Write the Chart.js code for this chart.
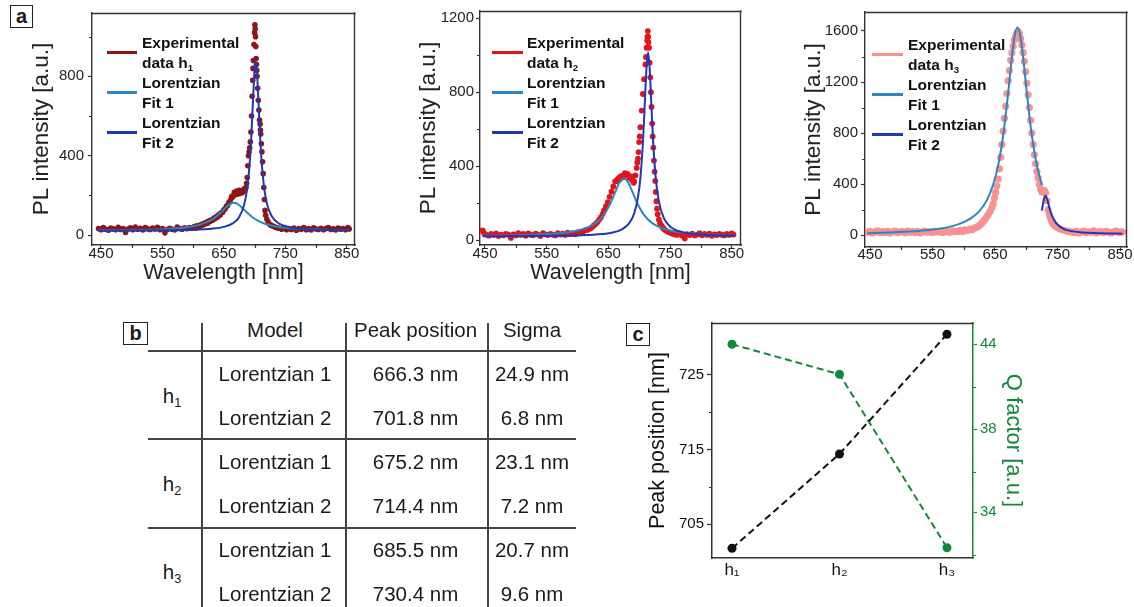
<!DOCTYPE html>
<html>
<head>
<meta charset="utf-8">
<script src="https://cdn.jsdelivr.net/npm/chart.js@4.4.1/dist/chart.umd.min.js"></script>
<style>
  html, body { margin: 0; padding: 0; background: #fff; }
  body { width: 1134px; height: 607px; position: relative; overflow: hidden;
         font-family: 'Liberation Sans', Arial, 'DejaVu Sans', sans-serif; color: #1a1a1a; }
  .pane { position: absolute; }
  .pane canvas { display: block; }
  .tag { position: absolute; box-sizing: border-box; border: 1.5px solid #222; background: #fff;
         font-weight: bold; font-size: 20px; line-height: 20px; text-align: center; }
  .legend { position: absolute; font-weight: bold; font-size: 15.5px; line-height: 20px; color: #111; }
  .legend .item { position: relative; height: 40px; }
  .legend .sw { position: absolute; left: 0; top: 18px; height: 3px; }
  .legend .lbl { position: absolute; top: 0; white-space: nowrap; }
  sub { font-size: 0.62em; line-height: 0; vertical-align: -0.3em; }
  .cell { position: absolute; width: 200px; text-align: center; font-size: 20.5px; line-height: 24px; white-space: nowrap; color: #1a1a1a; }
  .rule { position: absolute; background: #444; }
</style>
</head>
<body>

<div class="pane" style="left:0;top:0"><canvas id="specH1" width="370" height="290"></canvas></div>
<div class="pane" style="left:370px;top:0"><canvas id="specH2" width="380" height="290"></canvas></div>
<div class="pane" style="left:750px;top:0"><canvas id="specH3" width="384" height="290"></canvas></div>
<div class="pane" style="left:620px;top:310px"><canvas id="trend" width="514" height="297"></canvas></div>

<div class="tag" style="left:10px;top:5px;width:23px;height:23px">a</div>
<div class="tag" style="left:123px;top:322px;width:25px;height:23px">b</div>
<div class="tag" style="left:626px;top:323px;width:24px;height:23px">c</div>

<div id="legends"></div>
<div id="table"></div>

<script>
// ---------- colours ----------
const fit1Color = '#2b87c4';
const fit2Color = '#2138b5';
const expColors = ['#8c1616', '#e0141a', '#f99191'];
const qGreen = '#14883a';
const axisInk = '#333';

// ---------- axis ticks ----------
const wavelengthTicks = [450, 550, 650, 750, 850];
const wavelengthMinor = [500, 600, 700, 800];
const intensityTicksH1 = [0, 400, 800];
const intensityTicksH2 = [0, 400, 800, 1200];
const intensityTicksH3 = [0, 400, 800, 1200, 1600];
const intensityMinorH1 = [200, 600, 1000];
const intensityMinorH2 = [200, 600, 1000];
const intensityMinorH3 = [200, 600, 1000, 1400];

// ---------- spectrum h1 ----------
const h1Wavelength = [
  446,450,454,458,462,466,470,474,478,482,
  486,490,494,498,502,506,510,514,518,522,
  526,530,534,538,542,546,550,554,558,562,
  566,570,574,578,582,586,590,594,598,600,
  602,604,606,608,610,612,614,616,618,620,
  622,624,626,628,630,632,634,636,638,640,
  642,644,646,648,650,652,654,656,658,660,
  662,664,666,668,670,672,674,676,678,680,
  682,684,686,688,689,690,691,692,693,694,
  695,696,697,698,699,700,700.5,701,701.5,702,
  702.5,703,704,705,706,707,708,709,710,711,
  712,713,714,715,716,717,718,720,722,724,
  726,728,731,734,737,740,744,748,752,756,
  760,764,768,772,776,780,784,788,792,796,
  800,804,808,812,816,820,824,828,832,836,
  840,844,848,852,854,
  663,667,671,675,679,683,687,697.5,703.5,709.5
];
const h1Intensity = [
  34,28,38,30,25,36,32,27,40,29,
  34,14,31,37,28,41,30,35,26,38,
  32,29,36,31,40,27,33,12,29,35,
  30,26,41,34,30,37,33,39,36,38,
  44,36,47,42,50,46,55,51,60,57,
  66,62,72,70,78,76,86,84,94,92,
  104,102,114,116,128,132,145,150,164,172,
  186,192,200,205,210,206,214,210,218,214,
  222,226,240,290,350,400,420,440,470,520,
  600,700,780,880,960,1020,1060,1040,1000,950,
  890,860,800,740,680,630,580,560,510,460,
  420,370,310,240,180,125,100,80,66,56,
  52,48,45,40,37,35,30,38,27,33,
  29,36,25,34,30,38,28,33,26,37,
  31,29,35,27,33,38,29,32,26,36,
  30,34,28,38,31,
  196,216,222,226,224,234,262,840,830,530
];
const h1Fit1Wavelength = [446,480,520,560,590,610,625,637,647,655,661,666.3,672,679,687,697,710,725,745,770,800,830,854];
const h1Fit1Intensity  = [24.5,25.4,27.4,31.9,40.1,52.1,69.2,92.5,120.3,144.7,158.5,163,157.9,140.7,116.1,89.2,65.7,50.1,39.2,32.4,28.5,26.4,25.4];
const h1Fit2Wavelength = [446,500,560,600,630,650,665,675,683,688,692,695,697.5,699.5,701.8,704,706,708.5,711.5,715,720,728,740,760,790,820,854];
const h1Fit2Intensity  = [22.8,23.3,24.7,27.2,32.5,41.9,60.6,92,153,237,364,518,685,812,877,817,692,525,368,252,160,95,58,38,29,26,24.4];

// ---------- spectrum h2 ----------
const h2Wavelength = [
  446,448,452,456,460,464,468,472,476,480,
  484,488,492,496,500,504,508,512,516,520,
  524,528,532,536,540,544,548,552,556,560,
  564,568,572,576,580,584,588,592,596,600,
  604,608,612,616,620,623,626,629,632,635,
  638,641,643,646,649,652,655,658,661,664,
  667,670,673,676,679,682,685,688,690,692,
  694,696,698,699,700,702,704,706,708,710,
  711,712,713,713.5,714,714.5,715,716,717,718,
  719,720,721,722,723,724,725,726,727,728,
  729,730,732,734,736,738,740,743,746,750,
  754,758,762,766,770,774,778,782,786,790,
  794,798,802,806,810,814,818,822,826,830,
  834,838,842,846,850,853,
  665,669,674,677,681,684,687,691,697,701
];
const h2Intensity = [
  52,40,30,24,33,27,36,22,30,26,
  34,29,12,31,25,38,28,33,23,36,
  29,26,35,30,22,37,31,27,34,29,
  25,38,30,35,28,40,33,37,31,42,
  45,40,52,55,62,68,78,86,96,110,
  124,142,160,182,205,234,262,290,318,326,
  336,344,348,353,352,350,336,328,320,318,
  350,390,440,476,530,610,700,790,870,950,
  990,1040,1080,1100,1130,1100,1070,1040,960,880,
  800,720,630,560,500,430,370,320,260,210,
  170,140,110,90,78,68,60,52,46,40,
  34,30,28,36,24,9,32,27,35,25,
  30,37,26,33,28,35,23,31,27,34,
  29,25,33,28,36,30,
  318,330,340,362,358,340,344,310,420,560
];
const h2Fit1Wavelength = [446,480,520,560,590,610,625,637,647,655,662,668,675.2,681,688,696,705,715,728,745,770,800,830,854];
const h2Fit1Intensity  = [23.7,25.1,28,34.2,45,60.4,82.6,114.5,158.6,210.6,266.3,310.9,335,318.9,269.6,206.2,150.1,109.1,77.7,55.8,40.5,32.2,28,26];
const h2Fit2Wavelength = [446,500,560,600,630,655,672,684,692,698,702,706,709,711.5,714.4,717,720,723,727,732,740,752,770,795,825,854];
const h2Fit2Intensity  = [21,21.6,23,25.5,30,39.9,58.4,92.1,145.3,230.8,338,523.5,728.9,911,1015,930,714,512,331,208,119,68,43,31,26,23.7];

// ---------- spectrum h3 ----------
const h3Wavelength = [
  446,450,454,458,462,466,470,474,478,482,
  486,490,494,498,502,506,510,514,518,522,
  526,530,534,538,542,546,550,554,558,562,
  566,570,574,578,582,586,590,594,598,602,
  606,610,614,618,621,624,627,630,633,636,
  639,642,645,647,649,651,653,655,657,659,
  661,663,665,667,669,671,673,675,677,679,
  681,683,685,687,689,691,693,695,697,699,
  701,703,705,707,709,711,713,715,717,719,
  721,723,725,727,729,731,733,735,737,739,
  741,743,746,750,754,758,763,768,772,776,
  780,784,788,792,796,800,804,808,812,816,
  820,824,828,832,836,840,844,848,852,854
];
const h3Intensity = [
  24,30,18,26,34,20,28,22,31,17,
  27,33,21,25,29,19,32,24,28,22,
  30,18,26,33,23,28,20,31,25,29,
  22,32,27,24,34,30,28,38,30,42,
  36,48,44,58,64,72,86,100,118,138,
  160,185,215,244,290,335,385,440,520,610,
  710,815,915,1010,1110,1210,1290,1370,1430,1480,
  1530,1560,1585,1595,1580,1540,1490,1430,1360,1280,
  1190,1100,1000,900,800,710,630,560,500,450,
  400,360,340,345,350,330,270,200,160,130,
  105,90,72,60,50,42,35,30,26,22,
  30,18,25,32,20,27,23,34,19,26,
  29,21,31,24,18,28,33,22,27,25
];
const h3Fit1Wavelength = [446,480,520,560,590,610,625,637,647,656,664,671,677,681.5,686,690.5,695,701,708,714,720,725];
const h3Fit1Intensity  = [15.6,20.3,30.1,50.1,83.1,127.7,189,274.7,394.2,570.2,814.5,1111,1394,1562,1627,1562,1394,1111,814.5,622,482,394];
const h3Fit2Wavelength = [725,727,728.5,730.4,732.5,735,738,742,746,750,756,765,775,790,807,830,854];
const h3Fit2Intensity  = [193,250,290,312,294,254,196,143,108,84,60,40,30,22,18,14,12];

// ---------- fit table (panel b) ----------
const sampleSubs = ['1', '2', '3'];
const modelNames = ['Lorentzian 1', 'Lorentzian 2'];
const peakLorentz1 = [666.3, 675.2, 685.5];
const peakLorentz2 = [701.8, 714.4, 730.4];
const sigmaLorentz1 = [24.9, 23.1, 20.7];
const sigmaLorentz2 = [6.8, 7.2, 9.6];

// ---------- trend (panel c) ----------
const sampleLabels = ['h\u2081', 'h\u2082', 'h\u2083'];
const qFactor = [43.8, 42.1, 32.3];
const peakTicks = [705, 715, 725];
const peakMinor = [710, 720];
const qTickPos = [43.8, 39.0, 34.3];
const qTickLabels = ['44', '38', '34'];
const qMinor = [41.4, 36.6, 31.9];

// ---------- shared Chart.js setup ----------
Chart.defaults.font.family = "'Liberation Sans', Arial, 'DejaVu Sans', sans-serif";
Chart.defaults.color = '#222';
Chart.defaults.animation = false;

function pairs(xs, ys) { return xs.map((x, i) => ({ x: x, y: ys[i] })); }
const plainNumber = v => String(v);

// closes the plot frame on the given sides
function framePlugin(sides, color, width) {
  return {
    id: 'frame',
    afterDatasetsDraw(chart) {
      const { ctx, chartArea: a } = chart;
      ctx.save();
      ctx.strokeStyle = color; ctx.lineWidth = width; ctx.lineCap = 'square';
      ctx.beginPath();
      if (sides.includes('top'))   { ctx.moveTo(a.left, Math.round(a.top) + 0.5); ctx.lineTo(a.right, Math.round(a.top) + 0.5); }
      if (sides.includes('right')) { ctx.moveTo(Math.round(a.right) - 0.5, a.top); ctx.lineTo(Math.round(a.right) - 0.5, a.bottom); }
      ctx.stroke();
      ctx.restore();
    }
  };
}

// short unlabelled ticks between the major ones
function minorTickPlugin(specs) {
  return {
    id: 'minorTicks',
    afterDraw(chart) {
      const ctx = chart.ctx;
      specs.forEach(sp => {
        const s = chart.scales[sp.axis];
        ctx.save();
        ctx.strokeStyle = sp.color; ctx.lineWidth = 1.2;
        ctx.beginPath();
        sp.values.forEach(v => {
          const p = Math.round(s.getPixelForValue(v)) + 0.5;
          if (s.isHorizontal()) { ctx.moveTo(p, s.top); ctx.lineTo(p, s.top + sp.length); }
          else if (s.position === 'left') { ctx.moveTo(s.right, p); ctx.lineTo(s.right - sp.length, p); }
          else { ctx.moveTo(s.left, p); ctx.lineTo(s.left + sp.length, p); }
        });
        ctx.stroke();
        ctx.restore();
      });
    }
  };
}

function spectrumChart(id, c) {
  return new Chart(document.getElementById(id), {
    type: 'scatter',
    data: {
      datasets: [
        { label: 'Lorentzian Fit 2', data: pairs(c.fit2x, c.fit2y), showLine: true, borderColor: fit2Color,
          borderWidth: 2, pointRadius: 0, cubicInterpolationMode: 'monotone', fill: false, order: 0 },
        { label: 'Lorentzian Fit 1', data: pairs(c.fit1x, c.fit1y), showLine: true, borderColor: fit1Color,
          borderWidth: 2, pointRadius: 0, cubicInterpolationMode: 'monotone', fill: false, order: 1 },
        { label: c.expLabel, data: pairs(c.expx, c.expy), showLine: false, pointRadius: c.dot,
          pointBackgroundColor: c.expColor, backgroundColor: c.expColor, pointBorderWidth: 0, order: 2 }
      ]
    },
    options: {
      responsive: false, devicePixelRatio: 1, animation: false,
      layout: { padding: c.pad },
      plugins: { legend: { display: false }, tooltip: { enabled: false } },
      scales: {
        x: {
          type: 'linear', min: c.xMin, max: c.xMax,
          afterBuildTicks: s => { s.ticks = wavelengthTicks.map(v => ({ value: v })); },
          ticks: { callback: plainNumber, font: { size: 15 }, color: '#222', padding: c.xPad, maxRotation: 0, autoSkip: false, includeBounds: false },
          grid: { drawOnChartArea: false, drawTicks: true, tickLength: 4, color: axisInk, tickWidth: 1.2 },
          border: { display: true, color: axisInk, width: 1.4 },
          title: { display: c.xTitle, text: 'Wavelength [nm]', font: { size: 21.5 }, color: '#222', padding: { top: 0, bottom: 4 } },
          afterFit: s => { s.height = c.xHeight; }
        },
        y: {
          type: 'linear', min: c.yMin, max: c.yMax,
          afterBuildTicks: s => { s.ticks = c.yTicks.map(v => ({ value: v })); },
          ticks: { callback: plainNumber, font: { size: 15 }, color: '#222', padding: c.yPad, autoSkip: false, includeBounds: false },
          grid: { drawOnChartArea: false, drawTicks: true, tickLength: 4, color: axisInk, tickWidth: 1.2 },
          border: { display: true, color: axisInk, width: 1.4 },
          title: { display: true, text: 'PL intensity [a.u.]', font: { size: 22.5 }, color: '#222', padding: { top: c.yTitlePad, bottom: 0 } },
          afterFit: s => { s.width = c.yWidth; }
        }
      }
    },
    plugins: [
      framePlugin(['top', 'right'], axisInk, 1.4),
      minorTickPlugin([
        { axis: 'x', values: wavelengthMinor, length: 3, color: axisInk },
        { axis: 'y', values: c.yMinor, length: 3, color: axisInk }
      ])
    ]
  });
}

spectrumChart('specH1', {
  expx: h1Wavelength, expy: h1Intensity, expColor: expColors[0], expLabel: 'Experimental data h1', dot: 2.8,
  fit1x: h1Fit1Wavelength, fit1y: h1Fit1Intensity, fit2x: h1Fit2Wavelength, fit2y: h1Fit2Intensity,
  xMin: 435.4, xMax: 863.4, yMin: -49.3, yMax: 1119,
  yTicks: intensityTicksH1, yMinor: intensityMinorH1,
  pad: { left: 0, top: 8, right: 15, bottom: 0 }, yWidth: 92, xHeight: 45,
  yPad: 4, xPad: -4, yTitlePad: 28.5, xTitle: true
});
spectrumChart('specH2', {
  expx: h2Wavelength, expy: h2Intensity, expColor: expColors[1], expLabel: 'Experimental data h2', dot: 2.9,
  fit1x: h2Fit1Wavelength, fit1y: h2Fit1Intensity, fit2x: h2Fit2Wavelength, fit2y: h2Fit2Intensity,
  xMin: 441.9, xMax: 865.1, yMin: -26.5, yMax: 1238.6,
  yTicks: intensityTicksH2, yMinor: intensityMinorH2,
  pad: { left: 0, top: 6, right: 9, bottom: 0 }, yWidth: 110, xHeight: 45,
  yPad: 2, xPad: -4, yTitlePad: 44.8, xTitle: true
});
spectrumChart('specH3', {
  expx: h3Wavelength, expy: h3Intensity, expColor: expColors[2], expLabel: 'Experimental data h3', dot: 3.6,
  fit1x: h3Fit1Wavelength, fit1y: h3Fit1Intensity, fit2x: h3Fit2Wavelength, fit2y: h3Fit2Intensity,
  xMin: 442, xMax: 861.2, yMin: -92.4, yMax: 1748.7,
  yTicks: intensityTicksH3, yMinor: intensityMinorH3,
  pad: { left: 0, top: 8, right: 7, bottom: 0 }, yWidth: 115, xHeight: 43,
  yPad: 3, xPad: -5, yTitlePad: 49.8, xTitle: false
});

// ---------- panel c: peak position and Q factor per sample ----------
const sampleIndex = sampleLabels.map((_, i) => i);
new Chart(document.getElementById('trend'), {
  type: 'scatter',
  data: {
    datasets: [
      { label: 'Peak position', data: pairs(sampleIndex, peakLorentz2), yAxisID: 'y', showLine: true,
        borderColor: '#111', borderWidth: 2, borderDash: [7, 4], pointRadius: 4.5,
        pointBackgroundColor: '#111', pointBorderWidth: 0, fill: false },
      { label: 'Q factor', data: pairs(sampleIndex, qFactor), yAxisID: 'q', showLine: true,
        borderColor: qGreen, borderWidth: 2, borderDash: [7, 4], pointRadius: 4.5,
        pointBackgroundColor: qGreen, pointBorderWidth: 0, fill: false }
    ]
  },
  options: {
    responsive: false, devicePixelRatio: 1, animation: false,
    layout: { padding: { left: 0, top: 13, right: 106, bottom: 0 } },
    plugins: { legend: { display: false }, tooltip: { enabled: false } },
    scales: {
      x: {
        type: 'linear', min: -0.186, max: 2.242,
        afterBuildTicks: s => { s.ticks = sampleIndex.map(v => ({ value: v })); },
        ticks: { callback: (v, i) => sampleLabels[i], font: { size: 17 }, color: '#111', padding: 2, maxRotation: 0, autoSkip: false, includeBounds: false },
        grid: { drawOnChartArea: false, drawTicks: false },
        border: { display: true, color: axisInk, width: 1.5 },
        afterFit: s => { s.height = 49; }
      },
      y: {
        type: 'linear', position: 'left', min: 700.5, max: 731.9,
        afterBuildTicks: s => { s.ticks = peakTicks.map(v => ({ value: v })); },
        ticks: { callback: plainNumber, font: { size: 15 }, color: '#111', padding: 3, autoSkip: false, includeBounds: false },
        grid: { drawOnChartArea: false, drawTicks: true, tickLength: 5, color: axisInk, tickWidth: 1.2 },
        border: { display: true, color: axisInk, width: 1.5 },
        title: { display: true, text: 'Peak position [nm]', font: { size: 21.5 }, color: '#111', padding: { top: 25.4, bottom: 0 } },
        afterFit: s => { s.width = 92; }
      },
      q: {
        type: 'linear', position: 'right', min: 31.72, max: 45.0,
        afterBuildTicks: s => { s.ticks = qTickPos.map(v => ({ value: v })); },
        ticks: { callback: (v, i) => qTickLabels[i], font: { size: 15 }, color: qGreen, padding: 3, autoSkip: false, includeBounds: false },
        grid: { drawOnChartArea: false, drawTicks: true, tickLength: 4, color: qGreen, tickWidth: 1.2 },
        border: { display: true, color: qGreen, width: 1.5 },
        title: { display: true, text: 'Q factor [a.u.]', font: { size: 22 }, color: qGreen, padding: { top: 1.5, bottom: 0 } },
        afterFit: s => { s.width = 55; }
      }
    }
  },
  plugins: [
    framePlugin(['top'], axisInk, 1.5),
    minorTickPlugin([
      { axis: 'y', values: peakMinor, length: 3, color: axisInk },
      { axis: 'q', values: qMinor, length: 3, color: qGreen }
    ])
  ]
});

// ---------- legends ----------
const legendSpecs = [
  { left: 107, top: 33, swatch: 30, gap: 35, exp: expColors[0], sub: sampleSubs[0] },
  { left: 492, top: 33, swatch: 31, gap: 35, exp: expColors[1], sub: sampleSubs[1] },
  { left: 872, top: 35, swatch: 31, gap: 36, exp: expColors[2], sub: sampleSubs[2] }
];
const legendHost = document.getElementById('legends');
legendSpecs.forEach(L => {
  const entries = [
    { color: L.exp, html: 'Experimental<br>data h<sub>' + L.sub + '</sub>' },
    { color: fit1Color, html: 'Lorentzian<br>Fit 1' },
    { color: fit2Color, html: 'Lorentzian<br>Fit 2' }
  ];
  const box = document.createElement('div');
  box.className = 'legend';
  box.style.left = L.left + 'px';
  box.style.top = L.top + 'px';
  box.innerHTML = entries.map(e =>
    '<div class="item"><span class="sw" style="width:' + L.swatch + 'px;background:' + e.color + '"></span>' +
    '<span class="lbl" style="left:' + L.gap + 'px">' + e.html + '</span></div>').join('');
  legendHost.appendChild(box);
});

// ---------- panel b: fit table ----------
const tableHost = document.getElementById('table');
function cell(cx, cy, html) {
  const d = document.createElement('div');
  d.className = 'cell';
  d.style.left = (cx - 100) + 'px';
  d.style.top = (cy - 12) + 'px';
  d.innerHTML = html;
  tableHost.appendChild(d);
}
function rule(x, y, w, h) {
  const d = document.createElement('div');
  d.className = 'rule';
  d.style.left = x + 'px'; d.style.top = y + 'px';
  d.style.width = w + 'px'; d.style.height = h + 'px';
  tableHost.appendChild(d);
}
const colModel = 275, colPeak = 415.5, colSigma = 532, colSample = 172;
cell(colModel, 330, 'Model');
cell(colPeak, 330, 'Peak position');
cell(colSigma, 330, 'Sigma');
[201, 345, 487].forEach(x => rule(x, 323, 1.5, 284));
[350, 438, 527].forEach(y => rule(148, y, 428, 1.5));
const rowY = [373.5, 417.5, 462, 506, 550, 593.5];
sampleSubs.forEach((s, i) => {
  cell(colSample, (rowY[2 * i] + rowY[2 * i + 1]) / 2, 'h<sub>' + s + '</sub>');
  const peaks = [peakLorentz1[i], peakLorentz2[i]];
  const sigmas = [sigmaLorentz1[i], sigmaLorentz2[i]];
  modelNames.forEach((m, j) => {
    const y = rowY[2 * i + j];
    cell(colModel, y, m);
    cell(colPeak, y, peaks[j].toFixed(1) + ' nm');
    cell(colSigma, y, sigmas[j].toFixed(1) + ' nm');
  });
});
</script>
</body>
</html>
